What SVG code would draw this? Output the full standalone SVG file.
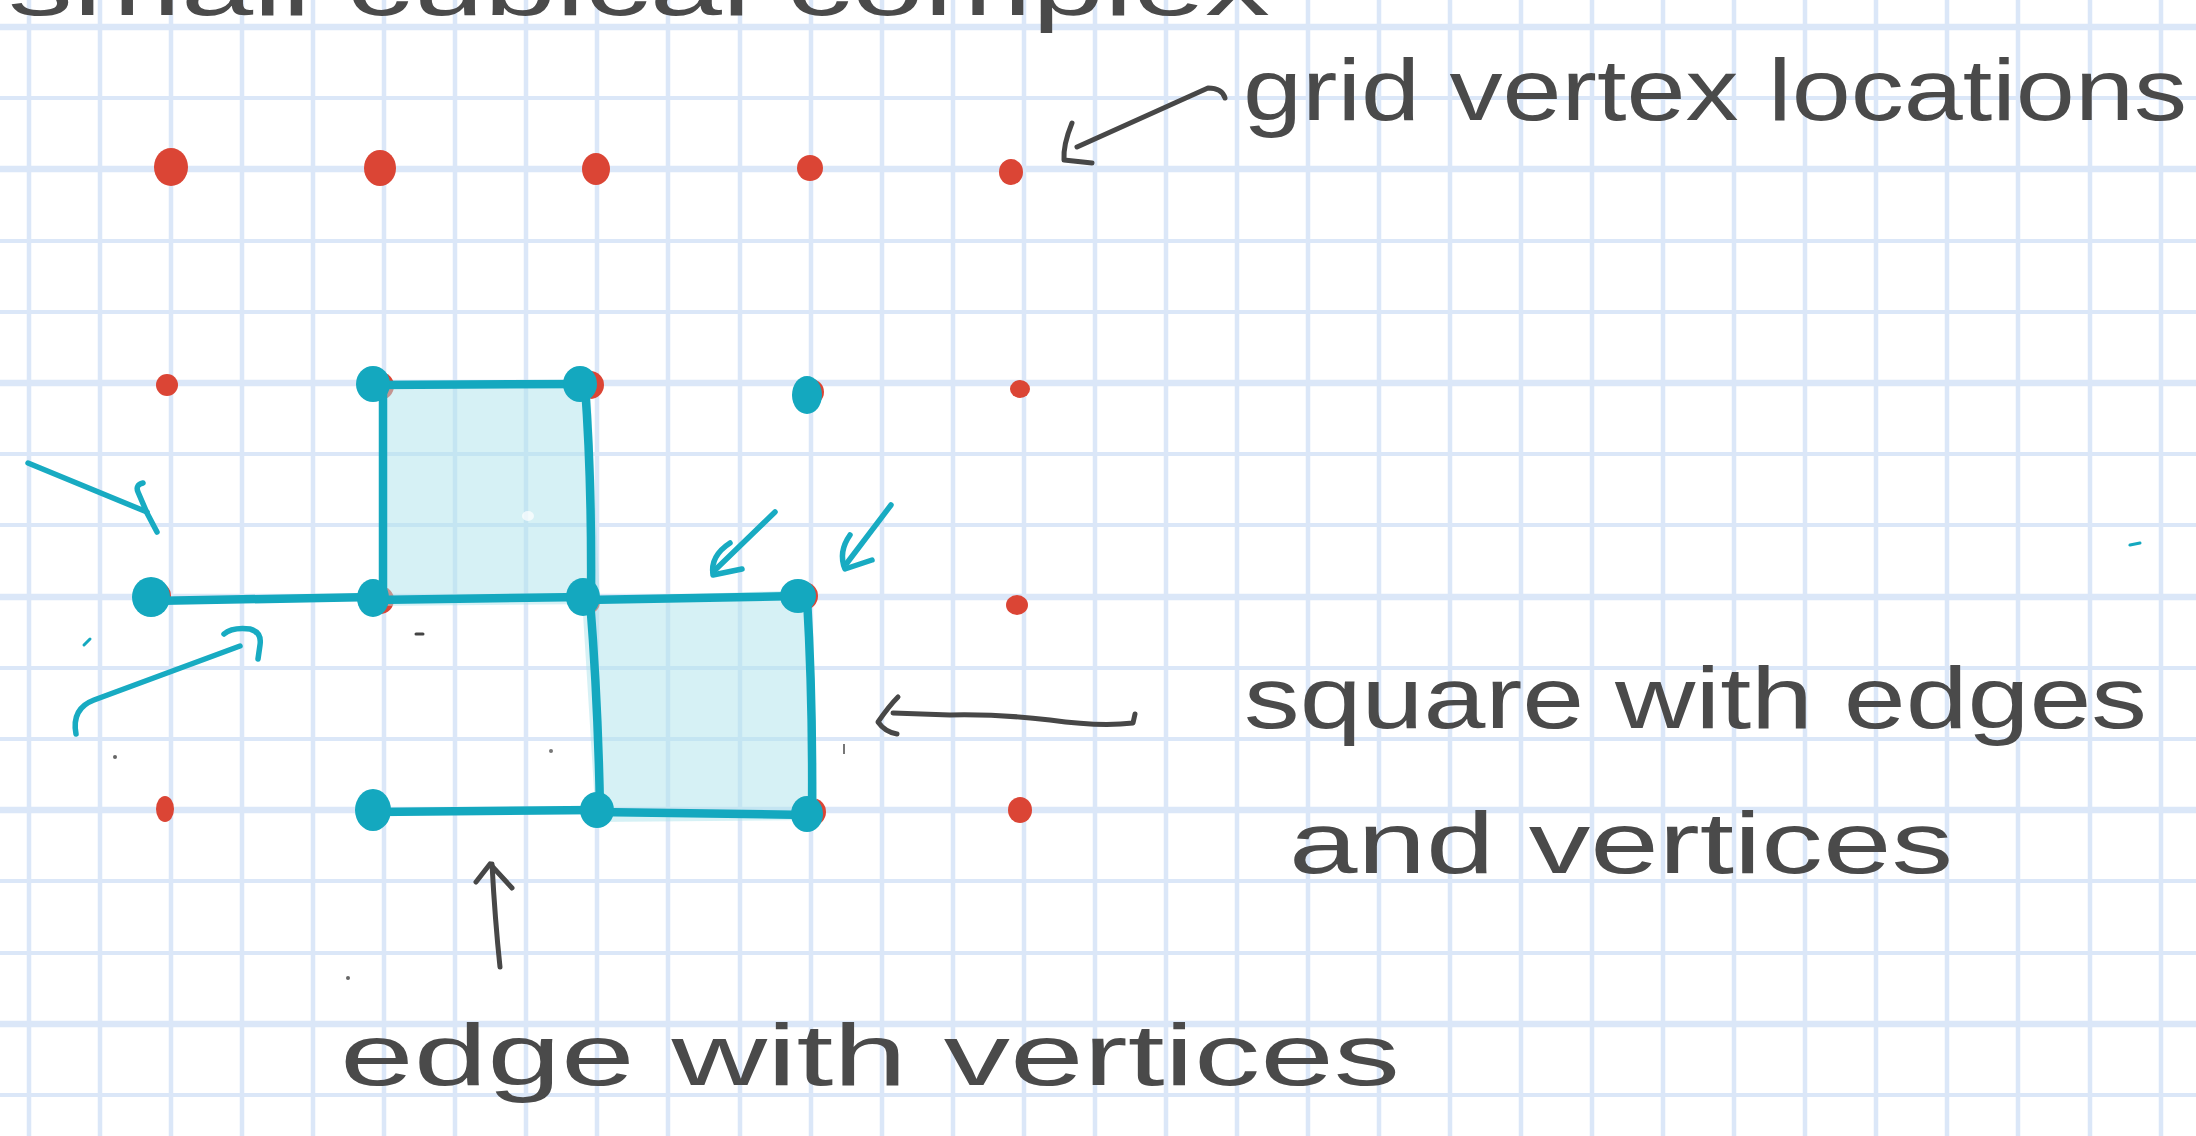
<svg xmlns="http://www.w3.org/2000/svg" width="2196" height="1136" viewBox="0 0 2196 1136">
<style>
.gl{stroke:#dbe7f8;fill:none}
.v{stroke-width:4.5}
.h{stroke-width:4}
.hb{stroke-width:6.5}
.red{fill:#db4535}
.cy{fill:#14a8bf}
.ce{stroke:#14a8bf;stroke-width:8.5;fill:none;stroke-linecap:round;stroke-linejoin:round}
.ca{stroke:#18abc2;stroke-width:5.5;fill:none;stroke-linecap:round;stroke-linejoin:round}
.ba{stroke:#474747;stroke-width:5;fill:none;stroke-linecap:round;stroke-linejoin:round}
.sq{fill:#aee3ec;fill-opacity:0.5}
.t{font-family:"Liberation Sans",Arial,sans-serif;fill:#4a4a4a;font-size:88px}
</style>
<rect width="2196" height="1136" fill="#ffffff"/>
<g id="grid">
<path class="gl v" d="M29,0V1136M100,0V1136M171,0V1136M242,0V1136M313,0V1136M384,0V1136M455,0V1136M526,0V1136M597,0V1136M668,0V1136M740,0V1136M811,0V1136M882,0V1136M953,0V1136M1024,0V1136M1095,0V1136M1166,0V1136M1237,0V1136M1308,0V1136M1379,0V1136M1450,0V1136M1521,0V1136M1592,0V1136M1663,0V1136M1734,0V1136M1805,0V1136M1876,0V1136M1947,0V1136M2018,0V1136M2090,0V1136M2161,0V1136"/>
<path class="gl h" d="M0,98H2196M0,241H2196M0,312H2196M0,454H2196M0,525H2196M0,668H2196M0,739H2196M0,881H2196M0,953H2196M0,1095H2196"/>
<path class="gl hb" d="M0,27H2196M0,169H2196M0,383H2196M0,597H2196M0,810H2196M0,1024H2196"/>
</g>
<g id="top-title">
<text class="t" x="8" y="15" textLength="1262" lengthAdjust="spacingAndGlyphs">small cubical complex</text>
</g>
<g id="vertex-locations">
<ellipse class="red" cx="171" cy="167" rx="17" ry="19"/>
<ellipse class="red" cx="380" cy="168" rx="16" ry="18"/>
<ellipse class="red" cx="596" cy="169" rx="14" ry="16"/>
<ellipse class="red" cx="810" cy="168" rx="13" ry="13"/>
<ellipse class="red" cx="1011" cy="172" rx="12" ry="13"/>
<ellipse class="red" cx="167" cy="385" rx="11" ry="11"/>
<ellipse class="red" cx="1020" cy="389" rx="10" ry="9"/>
<ellipse class="red" cx="1017" cy="605" rx="11" ry="10"/>
<ellipse class="red" cx="165" cy="809" rx="9" ry="13"/>
<ellipse class="red" cx="1020" cy="810" rx="12" ry="13"/>
<ellipse class="red" cx="380" cy="386" rx="14" ry="14"/>
<ellipse class="red" cx="590" cy="385" rx="14" ry="14"/>
<ellipse class="red" cx="157" cy="596" rx="14" ry="14"/>
<ellipse class="red" cx="380" cy="600" rx="14" ry="14"/>
<ellipse class="red" cx="588" cy="602" rx="12" ry="12"/>
<ellipse class="red" cx="804" cy="596" rx="14" ry="14"/>
<ellipse class="red" cx="812" cy="812" rx="14" ry="14"/>
<ellipse class="red" cx="811" cy="392" rx="13" ry="13"/>
</g>
<g id="square-upper">
<path class="sq" d="M381,384L590,382L600,604L380,606Z"/>
<ellipse cx="528" cy="516" rx="6" ry="5" fill="#ffffff" fill-opacity="0.7"/>
</g>
<g id="square-lower">
<path class="sq" d="M582,598L808,590L818,820L596,822Z"/>
</g>
<g id="connectors">
<path class="ce" d="M150,601L373,597"/>
<path class="ce" d="M373,385L585,384"/>
<path class="ce" d="M383,386L383,598"/>
<path class="ce" d="M585,386Q592,480 591,598"/>
<path class="ce" d="M373,600L585,597"/>
<path class="ce" d="M585,600L798,596"/>
<path class="ce" d="M590,600Q598,700 600,810"/>
<path class="ce" d="M807,598Q813,700 812,814"/>
<path class="ce" d="M597,812L809,815"/>
<path class="ce" d="M372,812L597,810"/>
<path class="ca" d="M28,463L147,512"/>
<path class="ca" d="M143,483Q135,485 138,492L147,513L157,532"/>
<path class="ca" d="M76,734C73,718 78,706 94,700L240,646"/>
<path class="ca" d="M224,634Q232,627 250,629Q262,632 260,645L258,659"/>
<path class="ca" d="M775,512L713,572"/>
<path class="ca" d="M730,543Q710,556 713,575L742,569"/>
<path class="ca" d="M891,505L847,563"/>
<path class="ca" d="M850,535Q838,552 845,569L872,560"/>
<path class="ba" d="M1225,98Q1222,88 1208,88L1077,147"/>
<path class="ba" d="M1072,123Q1063,145 1064,160L1092,163"/>
<path class="ba" d="M1135,714L1133,723Q1100,727 1050,720Q1000,714 950,715L893,713"/>
<path class="ba" d="M898,697Q889,706 878,722Q885,732 897,734"/>
<path class="ba" d="M500,967Q495,920 492,864"/>
<path class="ba" d="M476,882L490,864L512,888"/>
</g>
<g id="cubical-vertices">
<ellipse class="cy" cx="373" cy="384" rx="17" ry="18"/>
<ellipse class="cy" cx="580" cy="384" rx="17" ry="18"/>
<ellipse class="cy" cx="807" cy="395" rx="15" ry="19"/>
<ellipse class="cy" cx="151" cy="597" rx="19" ry="20"/>
<ellipse class="cy" cx="373" cy="598" rx="16" ry="19"/>
<ellipse class="cy" cx="583" cy="597" rx="17" ry="19"/>
<ellipse class="cy" cx="798" cy="596" rx="18" ry="17"/>
<ellipse class="cy" cx="373" cy="810" rx="18" ry="21"/>
<ellipse class="cy" cx="597" cy="810" rx="17" ry="18"/>
<ellipse class="cy" cx="807" cy="814" rx="16" ry="18"/>
</g>
<g id="specks">
<path d="M84,645L90,639" stroke="#14a8bf" stroke-width="3" stroke-linecap="round"/>
<path d="M2130,545L2140,543" stroke="#14a8bf" stroke-width="3" stroke-linecap="round"/>
<path d="M416,634L423,634" stroke="#444" stroke-width="3" stroke-linecap="round"/>
<circle cx="115" cy="757" r="2" fill="#666"/>
<circle cx="348" cy="978" r="2" fill="#666"/>
<circle cx="551" cy="751" r="2" fill="#777"/>
<path d="M844,744L844,754" stroke="#777" stroke-width="2"/>
</g>
<g id="label-grid">
<text class="t" x="1243" y="120" font-size="84" textLength="944" lengthAdjust="spacingAndGlyphs">grid vertex locations</text>
</g>
<g id="label-square">
<text class="t" x="1244" y="728" textLength="903" lengthAdjust="spacingAndGlyphs">square with edges</text>
<text class="t" x="1289" y="873" textLength="664" lengthAdjust="spacingAndGlyphs">and vertices</text>
</g>
<g id="label-edge">
<text class="t" x="340" y="1085" textLength="1060" lengthAdjust="spacingAndGlyphs">edge with vertices</text>
</g>
</svg>
